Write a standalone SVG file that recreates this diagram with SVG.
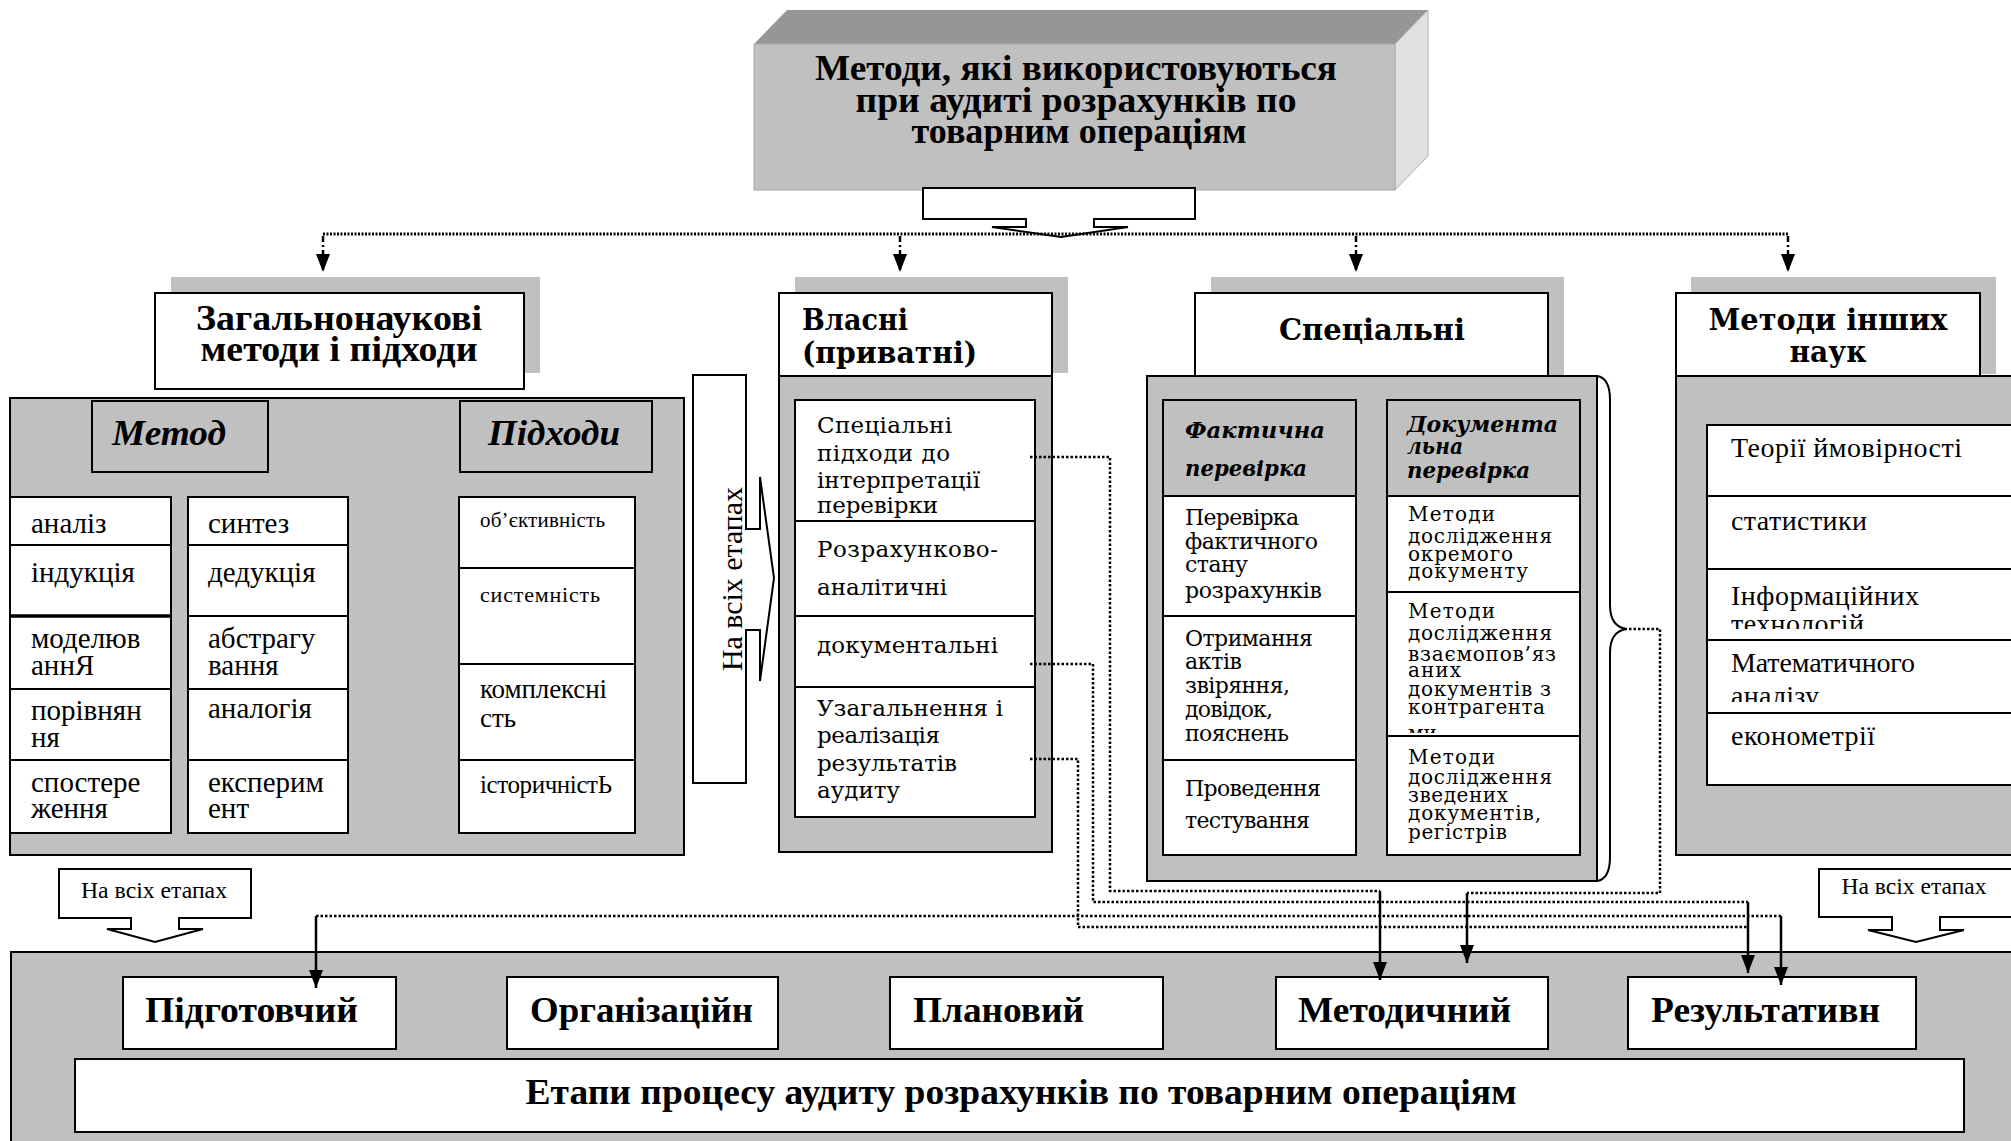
<svg xmlns="http://www.w3.org/2000/svg" width="2011" height="1141" viewBox="0 0 2011 1141">
<style>
.g{fill:#c0c0c0;stroke:#000;stroke-width:2}
.w{fill:#fff;stroke:#000;stroke-width:2}
.sh{fill:#c0c0c0}
text{font-family:"Liberation Serif","Times New Roman",serif;fill:#000}
.b{font-weight:bold}
.bi{font-weight:bold;font-style:italic}
.dv{font-family:"DejaVu Serif",serif}
.dot{fill:none;stroke:#000;stroke-width:2.5;stroke-dasharray:2.5 2}
.sol{fill:none;stroke:#000;stroke-width:2.5;marker-end:url(#ah)}
.mid{text-anchor:middle}
</style>
<defs>
<marker id="ah" markerUnits="userSpaceOnUse" markerWidth="18" markerHeight="14" viewBox="0 0 18 14" refX="18" refY="7" orient="auto">
<path d="M0,0 L18,7 L0,14 Z" fill="#000"/>
</marker>
<clipPath id="c1"><rect x="1700" y="569" width="320" height="60"/></clipPath>
<clipPath id="c2"><rect x="1700" y="640" width="320" height="62"/></clipPath>
<clipPath id="c3"><rect x="1388" y="700" width="190" height="33"/></clipPath>
</defs>

<g id="title">
<polygon points="754,44 787,10 1428,10 1395,44" fill="#969696"/>
<polygon points="1395,44 1428,10 1428,156 1395,190" fill="#e0e0e0" stroke="#b0b0b0" stroke-width="1"/>
<rect x="754" y="44" width="641" height="146" fill="#c0c0c0" stroke="#a8a8a8" stroke-width="1"/>
<text class="b mid" x="1076" y="80" font-size="36" textLength="522" lengthAdjust="spacingAndGlyphs">Методи, які використовуються</text>
<text class="b mid" x="1076" y="112" font-size="36" textLength="441" lengthAdjust="spacingAndGlyphs">при аудиті розрахунків по</text>
<text class="b mid" x="1079" y="143" font-size="36" textLength="335" lengthAdjust="spacingAndGlyphs">товарним операціям</text>
<path class="w" d="M923,188 H1195 V219 H1094 V227 H1128 L1061,237 L992,227 H1026 V219 H923 Z"/>
</g>

<g id="general">
<rect class="sh" x="171" y="277" width="369" height="96"/>
<rect class="w" x="155" y="293" width="369" height="96"/>
<text class="b mid" x="339" y="330" font-size="36" textLength="286" lengthAdjust="spacingAndGlyphs">Загальнонаукові</text>
<text class="b mid" x="339" y="361" font-size="36" textLength="277" lengthAdjust="spacingAndGlyphs">методи і підходи</text>
<rect class="g" x="10" y="398" width="674" height="457"/>
<rect class="g" x="92" y="401" width="176" height="71"/>
<text class="bi mid" x="169" y="445" font-size="36" textLength="114" lengthAdjust="spacingAndGlyphs">Метод</text>
<rect class="g" x="460" y="401" width="192" height="71"/>
<text class="bi mid" x="554" y="445" font-size="36" textLength="132" lengthAdjust="spacingAndGlyphs">Підходи</text>
<rect class="w" x="10" y="497" width="161" height="48"/>
<rect class="w" x="10" y="545" width="161" height="71"/>
<rect class="w" x="10" y="616" width="161" height="73"/>
<rect class="w" x="10" y="689" width="161" height="71"/>
<rect class="w" x="10" y="760" width="161" height="73"/>
<line x1="10" y1="616" x2="171" y2="616" stroke="#000" stroke-width="3.5"/>
<rect class="w" x="188" y="497" width="160" height="48"/>
<rect class="w" x="188" y="545" width="160" height="71"/>
<rect class="w" x="188" y="616" width="160" height="73"/>
<rect class="w" x="188" y="689" width="160" height="71"/>
<rect class="w" x="188" y="760" width="160" height="73"/>
<g font-size="29">
<text x="31" y="533">аналіз</text>
<text x="31" y="582">індукція</text>
<text x="31" y="648">моделюв</text>
<text x="31" y="675">аннЯ</text>
<text x="31" y="720">порівнян</text>
<text x="31" y="747">ня</text>
<text x="31" y="792">спостере</text>
<text x="31" y="818">ження</text>
<text x="208" y="533">синтез</text>
<text x="208" y="582">дедукція</text>
<text x="208" y="648">абстрагу</text>
<text x="208" y="675">вання</text>
<text x="208" y="718">аналогія</text>
<text x="208" y="792">експерим</text>
<text x="208" y="818">ент</text>
</g>
<rect class="w" x="459" y="497" width="176" height="71"/>
<rect class="w" x="459" y="568" width="176" height="96"/>
<rect class="w" x="459" y="664" width="176" height="96"/>
<rect class="w" x="459" y="760" width="176" height="73"/>
<text x="480" y="527" font-size="21" textLength="125">об’єктивність</text>
<text x="480" y="602" font-size="22" textLength="120">системність</text>
<text x="480" y="698" font-size="27" textLength="127">комплексні</text>
<text x="480" y="727" font-size="27">сть</text>
<text x="480" y="793" font-size="25" textLength="132">історичністЬ</text>
</g>

<g id="all-stages-v">
<path class="w" d="M693,375 H746 V529 H760 V477 L774,578 L760,681 V630 H746 V783 H693 Z"/>
<text class="mid" transform="translate(742,579) rotate(-90)" font-size="29" textLength="184" lengthAdjust="spacingAndGlyphs">На всіх етапах</text>
</g>

<g id="own">
<rect class="sh" x="795" y="277" width="273" height="96"/>
<rect class="w" x="779" y="293" width="273" height="83"/>
<text class="b dv" x="802" y="330" font-size="29" textLength="106" lengthAdjust="spacingAndGlyphs">Власні</text>
<text class="b dv" x="802" y="363" font-size="29" textLength="175" lengthAdjust="spacingAndGlyphs">(приватні)</text>
<rect class="g" x="779" y="376" width="273" height="476"/>
<rect class="w" x="795" y="400" width="240" height="121"/>
<rect class="w" x="795" y="521" width="240" height="95"/>
<rect class="w" x="795" y="616" width="240" height="71"/>
<rect class="w" x="795" y="687" width="240" height="130"/>
<g font-size="23">
<text class="dv" x="817" y="433" textLength="135">Спеціальні</text>
<text class="dv" x="817" y="461" textLength="133">підходи до</text>
<text class="dv" x="817" y="488" textLength="163">інтерпретації</text>
<text class="dv" x="817" y="513" textLength="121">перевірки</text>
<text class="dv" x="817" y="557" textLength="181">Розрахунково-</text>
<text class="dv" x="817" y="595" textLength="130">аналітичні</text>
<text class="dv" x="817" y="653" textLength="181">документальні</text>
<text class="dv" x="817" y="716" textLength="186">Узагальнення і</text>
<text class="dv" x="817" y="743" textLength="123">реалізація</text>
<text class="dv" x="817" y="771" textLength="140">результатів</text>
<text class="dv" x="817" y="798" textLength="83">аудиту</text>
</g>
</g>

<g id="special">
<rect class="sh" x="1211" y="277" width="353" height="98"/>
<rect class="w" x="1195" y="293" width="353" height="83"/>
<text class="b dv mid" x="1372" y="340" font-size="29" textLength="186" lengthAdjust="spacingAndGlyphs">Спеціальні</text>
<rect class="g" x="1147" y="376" width="450" height="505"/>
<path d="M1597,376 Q1610,378 1610,400 V605 Q1610,627 1627,629 Q1610,631 1610,653 V857 Q1610,879 1597,881" fill="none" stroke="#000" stroke-width="2"/>
<rect class="g" x="1163" y="400" width="193" height="96"/>
<rect class="w" x="1163" y="496" width="193" height="120"/>
<rect class="w" x="1163" y="616" width="193" height="144"/>
<rect class="w" x="1163" y="760" width="193" height="95"/>
<text class="bi dv" x="1185" y="438" font-size="23" textLength="140" lengthAdjust="spacingAndGlyphs">Фактична</text>
<text class="bi dv" x="1185" y="476" font-size="23" textLength="122" lengthAdjust="spacingAndGlyphs">перевірка</text>
<g font-size="22">
<text class="dv" x="1185" y="525" textLength="114">Перевірка</text>
<text class="dv" x="1185" y="549" textLength="133">фактичного</text>
<text class="dv" x="1185" y="572" textLength="63">стану</text>
<text class="dv" x="1185" y="598" textLength="137">розрахунків</text>
<text class="dv" x="1185" y="646" textLength="128">Отримання</text>
<text class="dv" x="1185" y="669" textLength="57">актів</text>
<text class="dv" x="1185" y="693" textLength="105">звіряння,</text>
<text class="dv" x="1185" y="717" textLength="88">довідок,</text>
<text class="dv" x="1185" y="741" textLength="104">пояснень</text>
<text class="dv" x="1185" y="796" textLength="136">Проведення</text>
<text class="dv" x="1185" y="828" textLength="125">тестування</text>
</g>
<rect class="g" x="1387" y="400" width="193" height="96"/>
<rect class="w" x="1387" y="496" width="193" height="96"/>
<rect class="w" x="1387" y="592" width="193" height="144"/>
<rect class="w" x="1387" y="736" width="193" height="119"/>
<text class="bi dv" x="1407" y="432" font-size="22" textLength="151" lengthAdjust="spacingAndGlyphs">Документа</text>
<text class="bi dv" x="1407" y="454" font-size="22" textLength="56" lengthAdjust="spacingAndGlyphs">льна</text>
<text class="bi dv" x="1407" y="478" font-size="22" textLength="123" lengthAdjust="spacingAndGlyphs">перевірка</text>
<g font-size="20">
<text class="dv" x="1408" y="521" textLength="87">Методи</text>
<text class="dv" x="1408" y="543" textLength="144">дослідження</text>
<text class="dv" x="1408" y="561" textLength="105">окремого</text>
<text class="dv" x="1408" y="578" textLength="120">документу</text>
<text class="dv" x="1408" y="618" textLength="87">Методи</text>
<text class="dv" x="1408" y="640" textLength="144">дослідження</text>
<text class="dv" x="1408" y="661" textLength="148">взаємопов’яз</text>
<text class="dv" x="1408" y="677" textLength="53">аних</text>
<text class="dv" x="1408" y="696" textLength="143">документів з</text>
<text class="dv" x="1408" y="714" textLength="137">контрагента</text>
<text class="dv" x="1408" y="740" clip-path="url(#c3)">ми</text>
<text class="dv" x="1408" y="764" textLength="87">Методи</text>
<text class="dv" x="1408" y="784" textLength="144">дослідження</text>
<text class="dv" x="1408" y="802" textLength="100">зведених</text>
<text class="dv" x="1408" y="820" textLength="133">документів,</text>
<text class="dv" x="1408" y="839" textLength="99">регістрів</text>
</g>
</g>

<g id="other">
<rect class="sh" x="1691" y="277" width="305" height="97"/>
<rect class="w" x="1676" y="293" width="304" height="83"/>
<text class="b dv mid" x="1828" y="330" font-size="29" textLength="239" lengthAdjust="spacingAndGlyphs">Методи інших</text>
<text class="b dv mid" x="1828" y="362" font-size="29" textLength="77" lengthAdjust="spacingAndGlyphs">наук</text>
<rect class="g" x="1676" y="376" width="360" height="479"/>
<rect class="w" x="1707" y="425" width="340" height="71"/>
<rect class="w" x="1707" y="496" width="340" height="73"/>
<rect class="w" x="1707" y="569" width="340" height="71"/>
<rect class="w" x="1707" y="640" width="340" height="73"/>
<rect class="w" x="1707" y="713" width="340" height="72"/>
<g font-size="28">
<text x="1731" y="457" textLength="231">Теорії ймовірності</text>
<text x="1731" y="530" textLength="136">статистики</text>
<text x="1731" y="605" textLength="188">Інформаційних</text>
<text x="1731" y="633" textLength="133" clip-path="url(#c1)">технологій</text>
<text x="1731" y="672" textLength="184">Математичного</text>
<text x="1731" y="705" textLength="88" clip-path="url(#c2)">аналізу</text>
<text x="1731" y="745" textLength="144">економетрії</text>
</g>
</g>

<g id="stages">
<rect class="g" x="11" y="952" width="2030" height="220"/>
<rect class="w" x="123" y="977" width="273" height="72"/>
<text class="b" x="145" y="1022" font-size="35" textLength="213" lengthAdjust="spacingAndGlyphs">Підготовчий</text>
<rect class="w" x="507" y="977" width="271" height="72"/>
<text class="b" x="530" y="1022" font-size="35" textLength="223" lengthAdjust="spacingAndGlyphs">Організаційн</text>
<rect class="w" x="890" y="977" width="273" height="72"/>
<text class="b" x="913" y="1022" font-size="35" textLength="171" lengthAdjust="spacingAndGlyphs">Плановий</text>
<rect class="w" x="1276" y="977" width="272" height="72"/>
<text class="b" x="1298" y="1022" font-size="35" textLength="213" lengthAdjust="spacingAndGlyphs">Методичний</text>
<rect class="w" x="1628" y="977" width="288" height="72"/>
<text class="b" x="1651" y="1022" font-size="35" textLength="229" lengthAdjust="spacingAndGlyphs">Результативн</text>
<rect class="w" x="75" y="1059" width="1889" height="73"/>
<text class="b mid" x="1021" y="1104" font-size="35" textLength="991" lengthAdjust="spacingAndGlyphs">Етапи процесу аудиту розрахунків по товарним операціям</text>
</g>

<g id="all-stages-left">
<path class="w" d="M59,869 H251 V918 H179 V929 H203 L155,942 L107,929 H131 V918 H59 Z"/>
<text class="mid" x="154" y="898" font-size="23" textLength="146" lengthAdjust="spacingAndGlyphs">На всіх етапах</text>
</g>
<g id="all-stages-right">
<path class="w" d="M1819,869 H2040 V917 H1940 V930 H1964 L1916,942 L1868,930 H1892 V917 H1819 Z"/>
<text class="mid" x="1914" y="894" font-size="23" textLength="145" lengthAdjust="spacingAndGlyphs">На всіх етапах</text>
</g>

<g id="connectors">
<path d="M323,234 H1788" fill="none" stroke="#000" stroke-width="3" stroke-dasharray="2 1.5"/>
<g fill="none" stroke="#000" stroke-width="2.5" stroke-dasharray="6 3 2 3" marker-end="url(#ah)">
<path d="M323,236 V272"/>
<path d="M900,236 V272"/>
<path d="M1356,236 V272"/>
<path d="M1788,236 V272"/>
</g>
<path class="dot" d="M1030,457 H1110 V891 H1380"/>
<path class="sol" d="M1380,891 V980"/>
<path class="dot" d="M1030,664 H1093 V902 H1748"/>
<path class="dot" d="M1030,759 H1078 V927 H1748"/>
<path class="sol" d="M1748,902 V973"/>
<path class="dot" d="M1629,629 H1660 V893 H1467"/>
<path class="sol" d="M1467,893 V963"/>
<path class="dot" d="M316,916 H1781"/>
<path class="sol" d="M1781,916 V985"/>
<path class="sol" d="M316,916 V988"/>
</g>
</svg>
